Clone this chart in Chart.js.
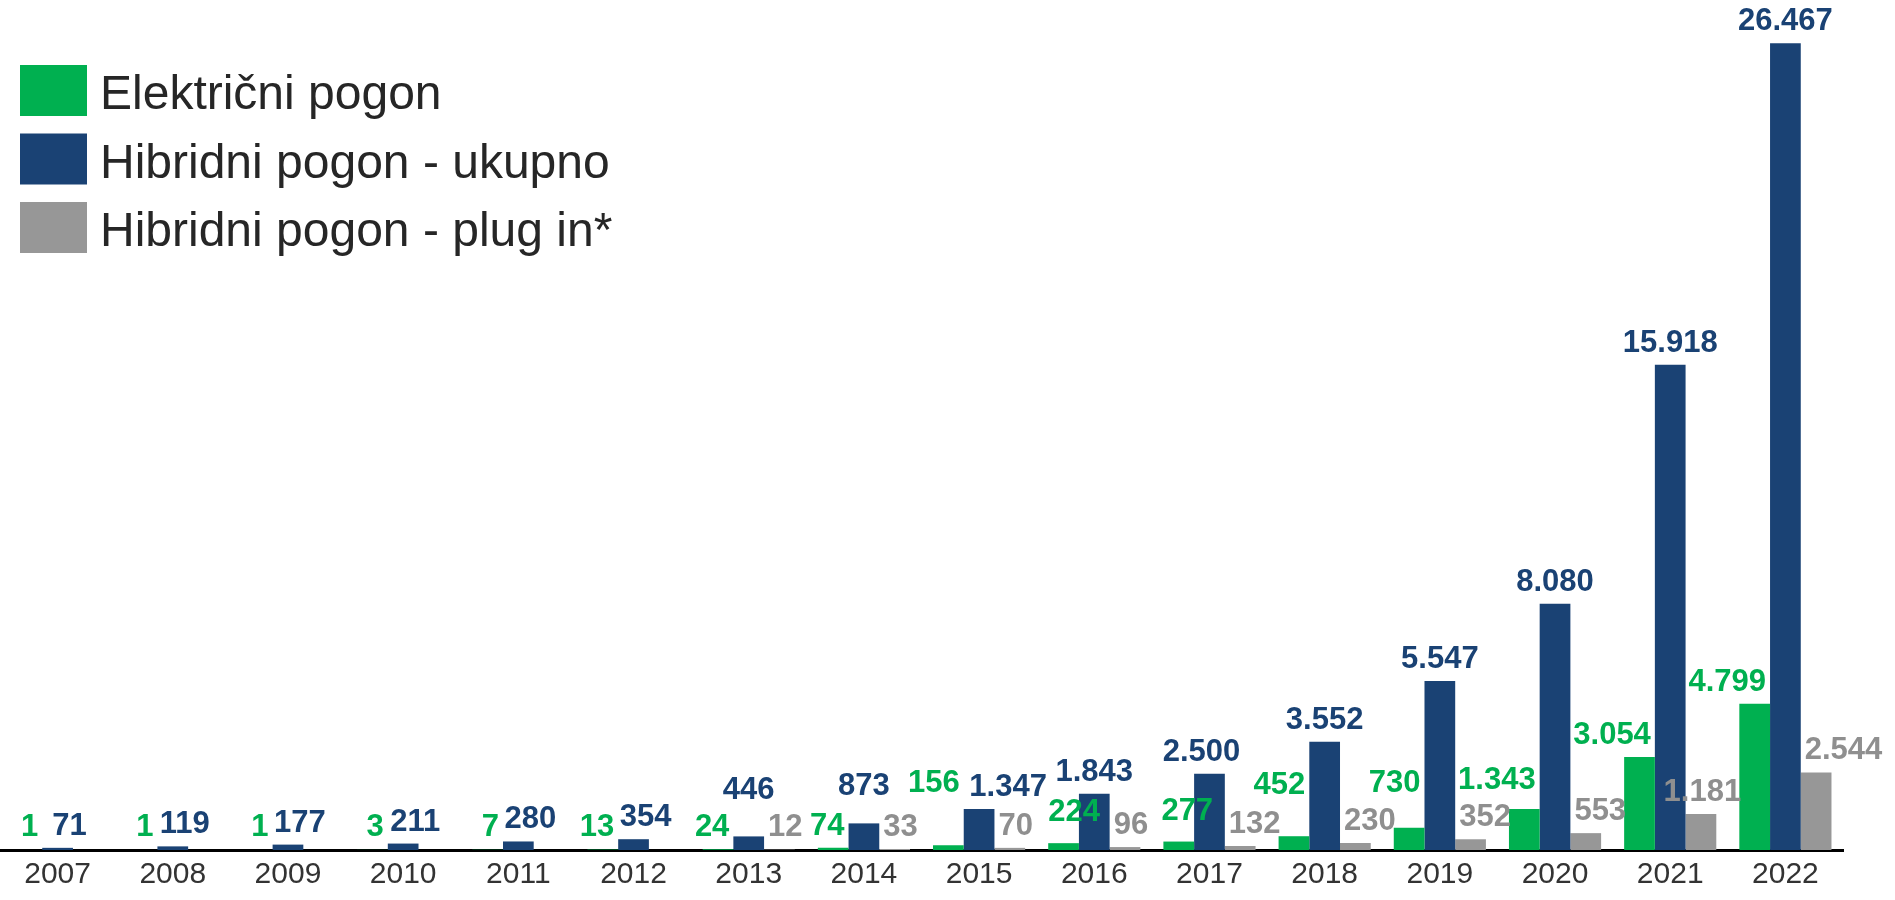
<!DOCTYPE html>
<html>
<head>
<meta charset="utf-8">
<script src="https://cdn.jsdelivr.net/npm/chart.js@4"></script>
<style>
    body { margin: 0; background: #fff; }
    #okvir { position: relative; width: 1895px; height: 900px; }
</style>
</head>
<body>
<div id="okvir"><canvas id="grafikonVozila"></canvas></div>
<script>
// ------------------------------------------------ PODACI ------------------------------------------------

    const godine = ["2007", "2008", "2009", "2010", "2011", "2012", "2013", "2014",
                    "2015", "2016", "2017", "2018", "2019", "2020", "2021", "2022"];

    const elektricniPogon = [1, 1, 1, 3, 7, 13, 24, 74, 156, 224, 277, 452, 730, 1343, 3054, 4799];
    const hibridniUkupno = [71, 119, 177, 211, 280, 354, 446, 873, 1347, 1843, 2500, 3552, 5547, 8080, 15918, 26467];
    const hibridniPlugIn = [null, null, null, null, null, null, 12, 33, 70, 96, 132, 230, 352, 553, 1181, 2544];

    const nazivi = ['Električni pogon', 'Hibridni pogon - ukupno', 'Hibridni pogon - plug in*'];
    const boje = ['#00B050', '#1A4274', '#979797'];
    const bojeOznaka = ['#00B050', '#1A4274', '#8F8F8F'];

    // rucno pomaknute oznake (serija-indeks: [dx, dy]), kao u originalu
    const pomaciOznaka = {
        '1-6': [-12, -24],
        '1-7': [0, -15],
        '0-8': [0, -40],
        '1-8': [29, 0],
        '0-9': [25, -9],
        '0-10': [23, -9],
        '1-10': [-8, 0],
        '0-11': [0, -29],
        '0-12': [0, -23],
        '0-13': [0, -7],
        '2-14': [-26, 0]
    };

    // broj s tockom kao separatorom tisuca
    function formatiraj(v) {
        return String(v).replace(/\B(?=(\d{3})+(?!\d))/g, '.');
    }

// ------------------------------------------------ OZNAKE NA STUPCIMA ------------------------------------------------

    const oznakeStupaca = {
        id: 'oznakeStupaca',
        afterDatasetsDraw(chart) {
            const ctx = chart.ctx;
            const dno = chart.chartArea.bottom;
            ctx.save();
            ctx.font = 'bold 31px "Liberation Sans", Arial, sans-serif';
            ctx.textBaseline = 'alphabetic';
            chart.data.datasets.forEach((ds, i) => {
                const meta = chart.getDatasetMeta(i);
                meta.data.forEach((bar, j) => {
                    const v = ds.data[j];
                    if (v === null || v === undefined) return;
                    const pola = bar.width / 2;
                    const nisko = bar.y >= dno - 18;
                    let x = bar.x;
                    let y = Math.min(bar.y - 13, dno - 14);
                    if (i === 0) { ctx.textAlign = 'right'; x = bar.x + pola - 4; }
                    else if (i === 2) { ctx.textAlign = 'left'; x = bar.x - pola + 4; }
                    else { ctx.textAlign = 'center'; x = bar.x + (nisko ? 12 : 0); }
                    const p = pomaciOznaka[i + '-' + j];
                    if (p) { x += p[0]; y += p[1]; }
                    ctx.fillStyle = bojeOznaka[i];
                    ctx.fillText(formatiraj(v), x, y);
                });
            });
            ctx.restore();
        }
    };

// ------------------------------------------------ LEGENDA ------------------------------------------------

    const legenda = {
        id: 'legenda',
        afterDraw(chart) {
            const ctx = chart.ctx;
            ctx.save();
            ctx.font = '48px "Liberation Sans", Arial, sans-serif';
            ctx.textBaseline = 'middle';
            ctx.textAlign = 'left';
            chart.data.datasets.forEach((ds, i) => {
                const top = 65 + i * 68.5;
                ctx.fillStyle = ds.backgroundColor;
                ctx.fillRect(20, top, 67, 51);
                ctx.fillStyle = '#262626';
                ctx.fillText(ds.label, 100, top + 31);
            });
            ctx.restore();
        }
    };

// ------------------------------------------------ GRAFIKON ------------------------------------------------

    const podaciVozila = {
        labels: godine,
        datasets: [
            { label: nazivi[0], data: elektricniPogon, backgroundColor: boje[0] },
            { label: nazivi[1], data: hibridniUkupno, backgroundColor: boje[1] },
            { label: nazivi[2], data: hibridniPlugIn, backgroundColor: boje[2] }
        ]
    };

    const configVozila = {
        type: 'bar',
        data: podaciVozila,
        options: {
            responsive: true,
            maintainAspectRatio: false,
            animation: false,
            datasets: {
                bar: { categoryPercentage: 0.8, barPercentage: 1.0 }
            },
            layout: {
                padding: { left: 0, right: 52, top: 27, bottom: 0 }
            },
            plugins: {
                legend: { display: false },
                tooltip: { enabled: false }
            },
            scales: {
                x: {
                    grid: { display: false, drawTicks: false },
                    border: { display: true, color: '#000', width: 3 },
                    ticks: {
                        color: '#333333',
                        padding: 7,
                        font: { size: 30, family: '"Liberation Sans", Arial, sans-serif' }
                    }
                },
                y: {
                    display: false,
                    min: 0,
                    max: 27000
                }
            }
        },
        plugins: [oznakeStupaca, legenda]
    };

    var grafikonVozila = new Chart(
        document.getElementById('grafikonVozila'),
        configVozila
    );
</script>
</body>
</html>
